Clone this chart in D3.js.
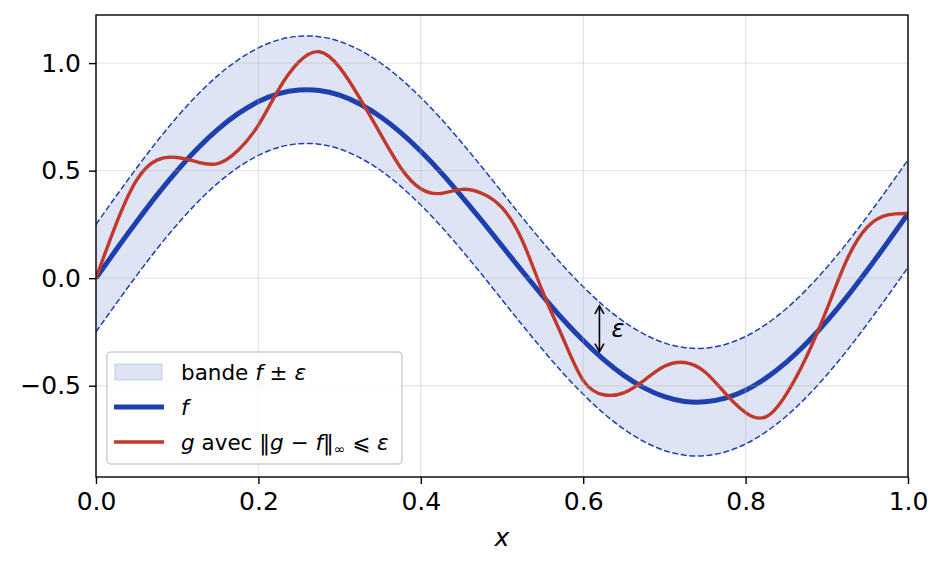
<!DOCTYPE html>
<html>
<head>
<meta charset="utf-8">
<script src="https://cdn.jsdelivr.net/npm/d3@7"></script>
<style>
  html, body { margin: 0; padding: 0; background: #fff; }
  svg text { font-family: "DejaVu Sans", sans-serif; }
</style>
</head>
<body>
<svg id="chart" width="945" height="569"></svg>
<script>
// sample positions along x
const xValues = [0, 0.025, 0.05, 0.075, 0.1, 0.125, 0.15, 0.175, 0.2, 0.225,
  0.25, 0.275, 0.3, 0.325, 0.35, 0.375, 0.4, 0.425, 0.45, 0.475,
  0.5, 0.525, 0.55, 0.575, 0.6, 0.625, 0.65, 0.675, 0.7, 0.725,
  0.75, 0.775, 0.8, 0.825, 0.85, 0.875, 0.9, 0.925, 0.95, 0.975, 1];

// f
const fValues = [0, 0.133, 0.262, 0.386, 0.500, 0.603, 0.692, 0.765, 0.821, 0.858,
  0.875, 0.873, 0.851, 0.810, 0.752, 0.678, 0.590, 0.491, 0.382, 0.268,
  0.150, 0.032, -0.082, -0.191, -0.290, -0.378, -0.452, -0.510, -0.551, -0.573,
  -0.575, -0.558, -0.521, -0.465, -0.392, -0.303, -0.200, -0.086, 0.038, 0.167, 0.300];

// g
const gValues = [0, 0.254, 0.456, 0.549, 0.561, 0.540, 0.533, 0.595, 0.712, 0.878,
  1.006, 1.053, 0.980, 0.836, 0.673, 0.515, 0.416, 0.394, 0.413, 0.395,
  0.328, 0.175, -0.062, -0.278, -0.475, -0.542, -0.533, -0.475, -0.410, -0.392,
  -0.436, -0.536, -0.625, -0.645, -0.540, -0.365, -0.145, 0.088, 0.238, 0.294, 0.301];

const eps = 0.25;
const xTicks = [0, 0.2, 0.4, 0.6, 0.8, 1.0];
const yTicks = [-0.5, 0, 0.5, 1.0];
const arrowX = 0.62;

const blue = "#1e40af";
const red = "#c0392b";

const svg = d3.select("#chart");
const margin = { left: 96, right: 37, top: 15, bottom: 92 };
const W = 945, H = 569;

const x = d3.scaleLinear().domain([0, 1]).range([margin.left, W - margin.right]);
const y = d3.scaleLinear().domain([-0.9245, 1.2237]).range([H - margin.bottom, margin.top]);

const pts = xValues.map((xv, i) => ({ x: xv, f: fValues[i], g: gValues[i] }));
const curve = d3.curveNatural;

svg.append("rect").attr("width", W).attr("height", H).attr("fill", "#fff");

svg.append("defs").append("clipPath").attr("id", "clip")
  .append("rect")
  .attr("x", x(0)).attr("y", y.range()[1])
  .attr("width", x(1) - x(0)).attr("height", y.range()[0] - y.range()[1]);

const plot = svg.append("g").attr("clip-path", "url(#clip)");

// band f ± eps
plot.append("path")
  .datum(pts)
  .attr("fill", blue)
  .attr("fill-opacity", 0.14)
  .attr("d", d3.area().curve(curve)
    .x(d => x(d.x))
    .y0(d => y(d.f - eps))
    .y1(d => y(d.f + eps)));

// grid
const grid = svg.append("g");
grid.selectAll(".gx").data(xTicks).join("line")
  .attr("x1", d => x(d)).attr("x2", d => x(d))
  .attr("y1", y.range()[1]).attr("y2", y.range()[0])
  .attr("stroke", "#b0b0b0").attr("stroke-opacity", 0.3).attr("stroke-width", 1.4);
grid.selectAll(".gy").data(yTicks).join("line")
  .attr("y1", d => y(d)).attr("y2", d => y(d))
  .attr("x1", x(0)).attr("x2", x(1))
  .attr("stroke", "#b0b0b0").attr("stroke-opacity", 0.3).attr("stroke-width", 1.4);

// band edges
[1, -1].forEach(s => {
  plot.append("path")
    .datum(pts)
    .attr("fill", "none")
    .attr("stroke", blue)
    .attr("stroke-width", 1.5)
    .attr("stroke-dasharray", "6,2.6")
    .attr("d", d3.line().curve(curve).x(d => x(d.x)).y(d => y(d.f + s * eps)));
});

// f
plot.append("path")
  .datum(pts)
  .attr("fill", "none")
  .attr("stroke", blue)
  .attr("stroke-width", 5)
  .attr("d", d3.line().curve(curve).x(d => x(d.x)).y(d => y(d.f)));

// g
plot.append("path")
  .datum(pts)
  .attr("fill", "none")
  .attr("stroke", red)
  .attr("stroke-width", 3.4)
  .attr("d", d3.line().curve(curve).x(d => x(d.x)).y(d => y(d.g)));

// epsilon arrow
const fAt = d3.scaleLinear().domain(xValues).range(fValues)(arrowX);
const ay0 = y(fAt) - 4, ay1 = y(fAt + eps) + 4;
const ax = x(arrowX);
const arrow = svg.append("g").attr("stroke", "#000").attr("stroke-width", 1.6).attr("fill", "none");
arrow.append("line").attr("x1", ax).attr("x2", ax).attr("y1", ay0).attr("y2", ay1);
arrow.append("path").attr("d", `M${ax - 4.5},${ay1 + 8} L${ax},${ay1} L${ax + 4.5},${ay1 + 8}`);
arrow.append("path").attr("d", `M${ax - 4.5},${ay0 - 8} L${ax},${ay0} L${ax + 4.5},${ay0 - 8}`);
svg.append("text")
  .attr("x", ax + 12).attr("y", (ay0 + ay1) / 2 + 8)
  .attr("font-size", 24).attr("font-style", "italic")
  .text("ε");

// axes
const fmt = d3.format(".1f");
const xAxis = svg.append("g")
  .attr("transform", `translate(0,${y.range()[0]})`)
  .call(d3.axisBottom(x).tickValues(xTicks).tickFormat(fmt).tickSize(7).tickPadding(8));
const yAxis = svg.append("g")
  .attr("transform", `translate(${x(0)},0)`)
  .call(d3.axisLeft(y).tickValues(yTicks).tickFormat(fmt).tickSize(7).tickPadding(8));
[xAxis, yAxis].forEach(a => {
  a.select(".domain").remove();
  a.selectAll(".tick line").attr("stroke", "#000").attr("stroke-width", 1.4);
  a.selectAll(".tick text").attr("font-size", 25).attr("fill", "#000")
    .attr("font-family", "DejaVu Sans");
});

svg.append("rect")
  .attr("x", x(0)).attr("y", y.range()[1])
  .attr("width", x(1) - x(0)).attr("height", y.range()[0] - y.range()[1])
  .attr("fill", "none").attr("stroke", "#000").attr("stroke-width", 1.4);

svg.append("text")
  .attr("x", (x(0) + x(1)) / 2).attr("y", 546)
  .attr("text-anchor", "middle")
  .attr("font-size", 25).attr("font-style", "italic")
  .text("x");

// legend
const lg = svg.append("g").attr("transform", "translate(107,352)");
lg.append("rect")
  .attr("width", 295).attr("height", 112).attr("rx", 4)
  .attr("fill", "#fff").attr("fill-opacity", 0.8)
  .attr("stroke", "#cccccc").attr("stroke-width", 1.4);
lg.append("rect")
  .attr("x", 8).attr("y", 12).attr("width", 47).attr("height", 16)
  .attr("fill", blue).attr("fill-opacity", 0.14)
  .attr("stroke", blue).attr("stroke-opacity", 0.14).attr("stroke-width", 1.4);
lg.append("line").attr("x1", 7).attr("x2", 57).attr("y1", 55).attr("y2", 55)
  .attr("stroke", blue).attr("stroke-width", 5);
lg.append("line").attr("x1", 7).attr("x2", 57).attr("y1", 90).attr("y2", 90)
  .attr("stroke", red).attr("stroke-width", 3.4);

const legendRows = [
  [["bande ", false], ["f", true], [" ± ", false], ["ε", true]],
  [["f", true]],
  [["g", true], [" avec ‖", false], ["g", true], [" − ", false], ["f", true], ["‖", false], ["∞", "sub"], [" ⩽ ", false], ["ε", true]]
];
legendRows.forEach((row, i) => {
  const t = lg.append("text")
    .attr("x", 74).attr("y", 28 + i * 35)
    .attr("font-size", 21.5).attr("fill", "#000");
  row.forEach(([s, st]) => {
    const sp = t.append("tspan").text(s);
    if (st === true) sp.attr("font-style", "italic");
    if (st === "sub") sp.attr("font-size", 14).attr("dy", 4);
    else if (row.some(r => r[1] === "sub") && s === " ⩽ ") sp.attr("dy", -4);
  });
});
</script>
</body>
</html>
